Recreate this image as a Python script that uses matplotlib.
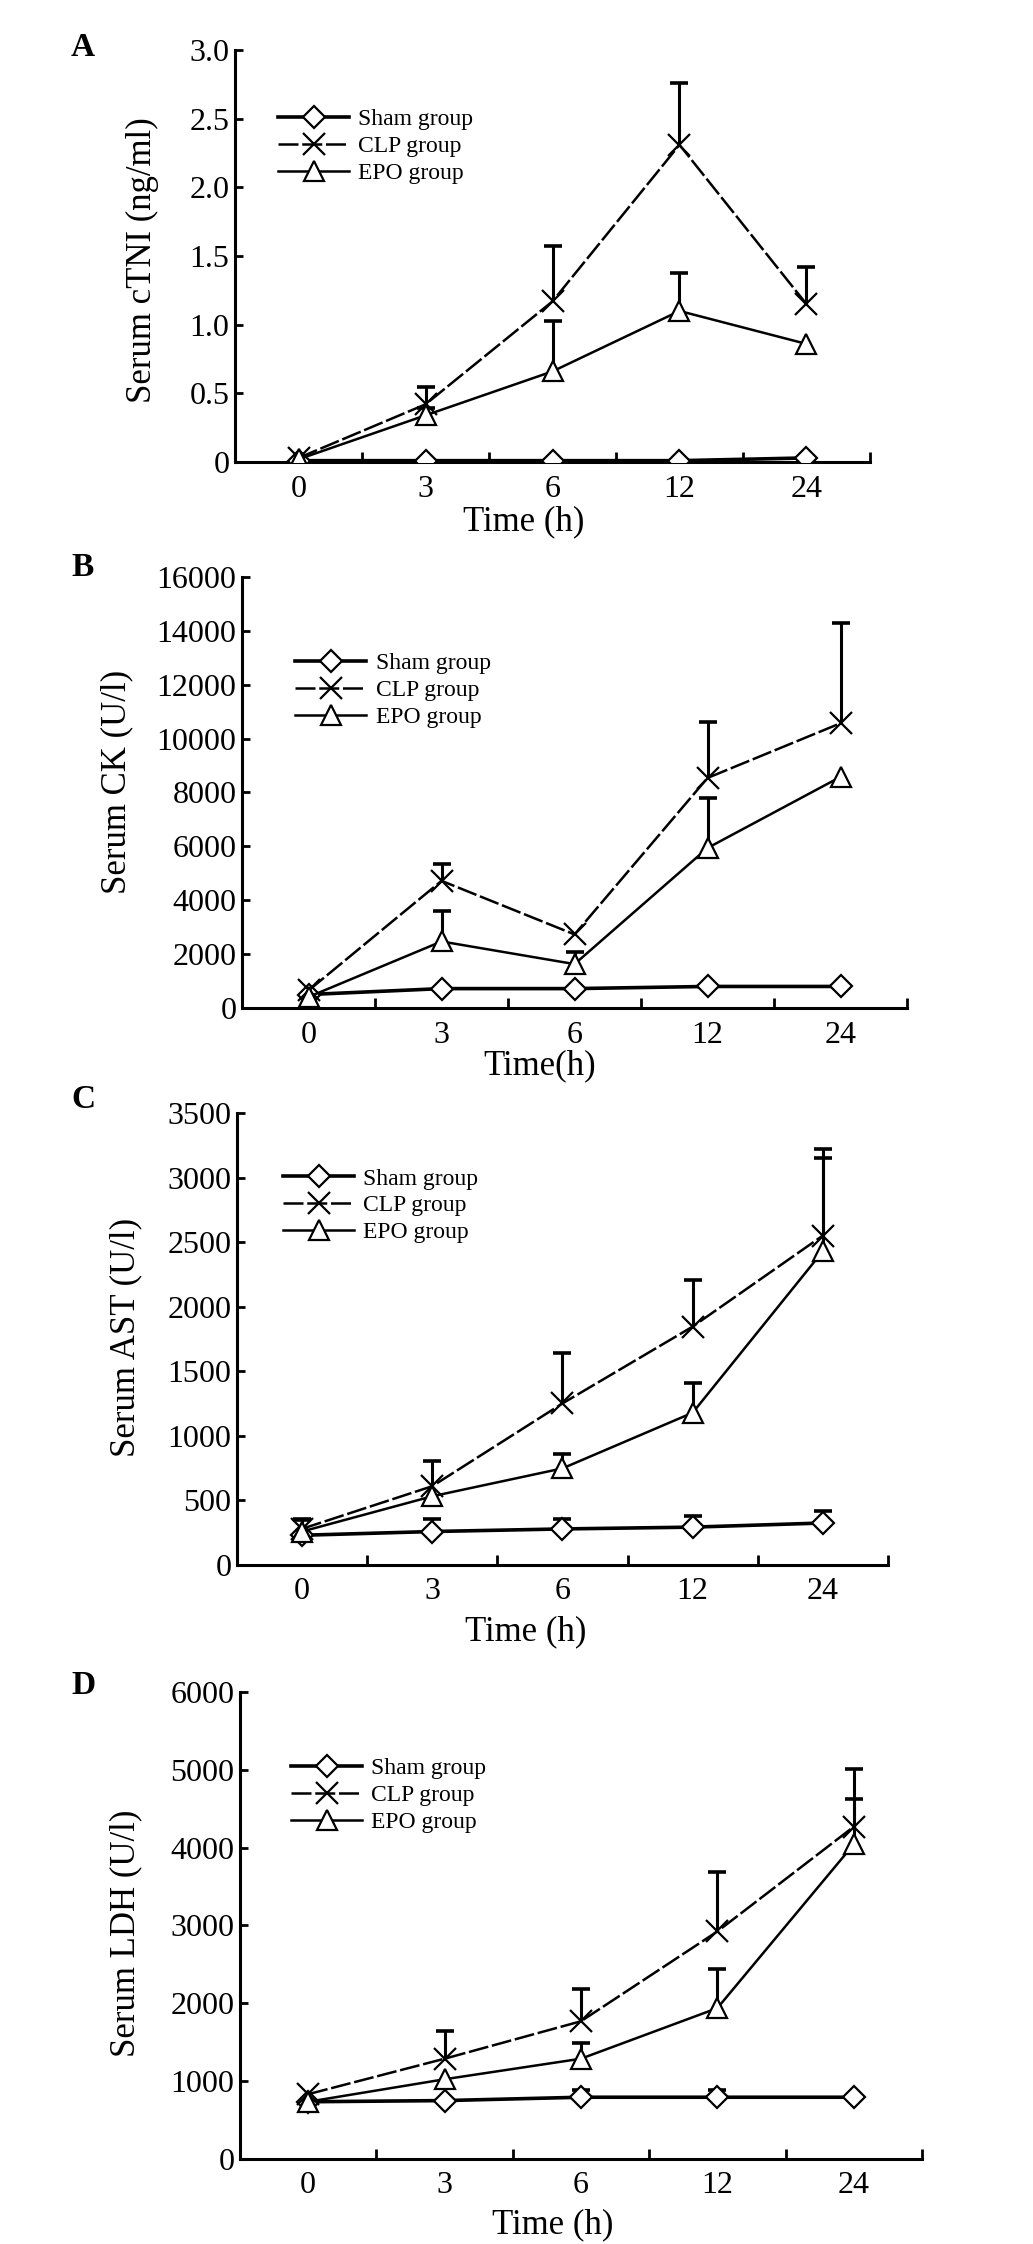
import numpy as np
import matplotlib
matplotlib.use('Agg')
import matplotlib.pyplot as plt
from matplotlib.ticker import FuncFormatter, FixedLocator

plt.rcParams['font.family'] = ['Liberation Serif', 'DejaVu Serif']

# time points (categorical axis)
times = ['0', '3', '6', '12', '24']
groups = ['Sham group', 'CLP group', 'EPO group']

# A: serum cTNI (ng/ml)
ctni_sham = [0.01, 0.01, 0.01, 0.01, 0.03]
ctni_sham_err = [0, 0, 0, 0, 0]
ctni_clp = [0.03, 0.42, 1.17, 2.31, 1.15]
ctni_clp_err = [0, 0.13, 0.40, 0.45, 0.27]
ctni_epo = [0.02, 0.34, 0.66, 1.10, 0.86]
ctni_epo_err = [0, 0.05, 0.37, 0.28, 0]

# B: serum CK (U/l)
ck_sham = [500, 720, 720, 800, 800]
ck_sham_err = [0, 0, 0, 0, 0]
ck_clp = [650, 4720, 2730, 8540, 10570]
ck_clp_err = [0, 620, 0, 2070, 3710]
ck_epo = [410, 2470, 1630, 5940, 8580]
ck_epo_err = [0, 1120, 450, 1870, 0]

# C: serum AST (U/l)
ast_sham = [230, 259, 279, 293, 325]
ast_sham_err = [120, 100, 80, 90, 92]
ast_clp = [280, 610, 1251, 1846, 2551]
ast_clp_err = [0, 195, 394, 363, 670]
ast_epo = [259, 532, 748, 1179, 2430]
ast_epo_err = [100, 0, 115, 230, 719]

# D: serum LDH (U/l)
ldh_sham = [735, 750, 793, 793, 793]
ldh_sham_err = [0, 0, 90, 90, 0]
ldh_clp = [832, 1288, 1769, 2923, 4269]
ldh_clp_err = [0, 361, 409, 769, 745]
ldh_epo = [735, 1024, 1288, 1938, 4043]
ldh_epo_err = [0, 0, 200, 504, 587]

panels = [
    dict(letter='A', ylabel='Serum cTNI (ng/ml)', xlabel='Time (h)',
         data=[(ctni_sham, ctni_sham_err), (ctni_clp, ctni_clp_err), (ctni_epo, ctni_epo_err)],
         ymax=3.0, ystep=0.5, rect=[0.2275, 0.7941, 0.6147, 0.1836],
         leg=(0.068, 0.857), xlab=(0.454, -0.146), ylab=(-0.146, 0.49), letter_xy=(83, 48)),
    dict(letter='B', ylabel='Serum CK (U/l)', xlabel='Time(h)',
         data=[(ck_sham, ck_sham_err), (ck_clp, ck_clp_err), (ck_epo, ck_epo_err)],
         ymax=16000, ystep=2000, rect=[0.2343, 0.5508, 0.6438, 0.1921],
         leg=(0.08, 0.824), xlab=(0.448, -0.135), ylab=(-0.189, 0.524), letter_xy=(83, 568)),
    dict(letter='C', ylabel='Serum AST (U/l)', xlabel='Time (h)',
         data=[(ast_sham, ast_sham_err), (ast_clp, ast_clp_err), (ast_epo, ast_epo_err)],
         ymax=3500, ystep=500, rect=[0.2294, 0.3026, 0.6302, 0.2014],
         leg=(0.071, 0.878), xlab=(0.444, -0.148), ylab=(-0.17, 0.504), letter_xy=(83, 1100)),
    dict(letter='D', ylabel='Serum LDH (U/l)', xlabel='Time (h)',
         data=[(ldh_sham, ldh_sham_err), (ldh_clp, ldh_clp_err), (ldh_epo, ldh_epo_err)],
         ymax=6000, ystep=1000, rect=[0.2323, 0.0379, 0.6602, 0.2081],
         leg=(0.075, 0.859), xlab=(0.459, -0.141), ylab=(-0.167, 0.484), letter_xy=(83, 1686)),
]

styles = [
    dict(marker='D', ms=11, ls='-', lw=2.6, mew=1.6),
    dict(marker='x', ms=16, ls=(0, (8, 1.5)), lw=1.8, mew=1.6),
    dict(marker='^', ms=15, ls='-', lw=1.8, mew=1.6),
]

W, H = 1033, 2244
fig = plt.figure(figsize=(W / 100, H / 100), dpi=100)

for p in panels:
    ax = fig.add_axes(p['rect'])
    x = np.arange(len(times))
    handles = []
    for (vals, errs), st, name in zip(p['data'], styles, groups):
        vals = np.array(vals, dtype=float)
        errs = np.array(errs, dtype=float)
        # upper-only error bars
        m = errs > 0
        ax.vlines(x[m], vals[m], vals[m] + errs[m], color='black', lw=2.2, zorder=2)
        ax.plot(x[m], vals[m] + errs[m], ls='none', marker='_', ms=13, mew=2.6,
                color='black', zorder=2)
        h, = ax.plot(x, vals, color='black', ls=st['ls'], lw=st['lw'],
                     marker=st['marker'], ms=st['ms'], mew=st['mew'],
                     mfc='white', mec='black', zorder=3, label=name)
        handles.append(h)

    ax.set_xlim(-0.5, 4.5)
    ax.set_ylim(0, p['ymax'])
    for s in ['top', 'right']:
        ax.spines[s].set_visible(False)
    for s in ['left', 'bottom']:
        ax.spines[s].set_linewidth(2.2)

    ax.set_xticks(x)
    ax.set_xticklabels(times)
    ax.xaxis.set_minor_locator(FixedLocator(np.arange(0.5, 5, 1.0)))
    ax.tick_params(axis='x', which='major', length=0, pad=9, labelsize=23)
    ax.tick_params(axis='x', which='minor', direction='in', length=7, width=2)
    yt = np.arange(0, p['ymax'] + p['ystep'] / 2, p['ystep'])
    ax.set_yticks(yt)
    if p['ystep'] < 1:
        ax.yaxis.set_major_formatter(FuncFormatter(lambda v, _: '0' if v == 0 else f'{v:.1f}'))
    else:
        ax.yaxis.set_major_formatter(FuncFormatter(lambda v, _: f'{v:.0f}'))
    ax.tick_params(axis='y', direction='in', length=6, width=2, pad=4, labelsize=23)

    ax.set_xlabel(p['xlabel'], fontsize=25)
    ax.xaxis.set_label_coords(*p['xlab'])
    ax.xaxis.label.set_va('center')
    ax.set_ylabel(p['ylabel'], fontsize=25)
    ax.yaxis.set_label_coords(*p['ylab'])
    ax.yaxis.label.set_va('center')

    ax.legend(handles=handles, loc='upper left', bbox_to_anchor=p['leg'],
              frameon=False, fontsize=17, borderpad=0, handlelength=3.0,
              handletextpad=0.4, labelspacing=0.22, borderaxespad=0)

    fig.text(p['letter_xy'][0] / W, 1 - p['letter_xy'][1] / H, p['letter'],
             fontsize=24, fontweight='bold', ha='center', va='center')

fig.savefig('out.png', dpi=100)
